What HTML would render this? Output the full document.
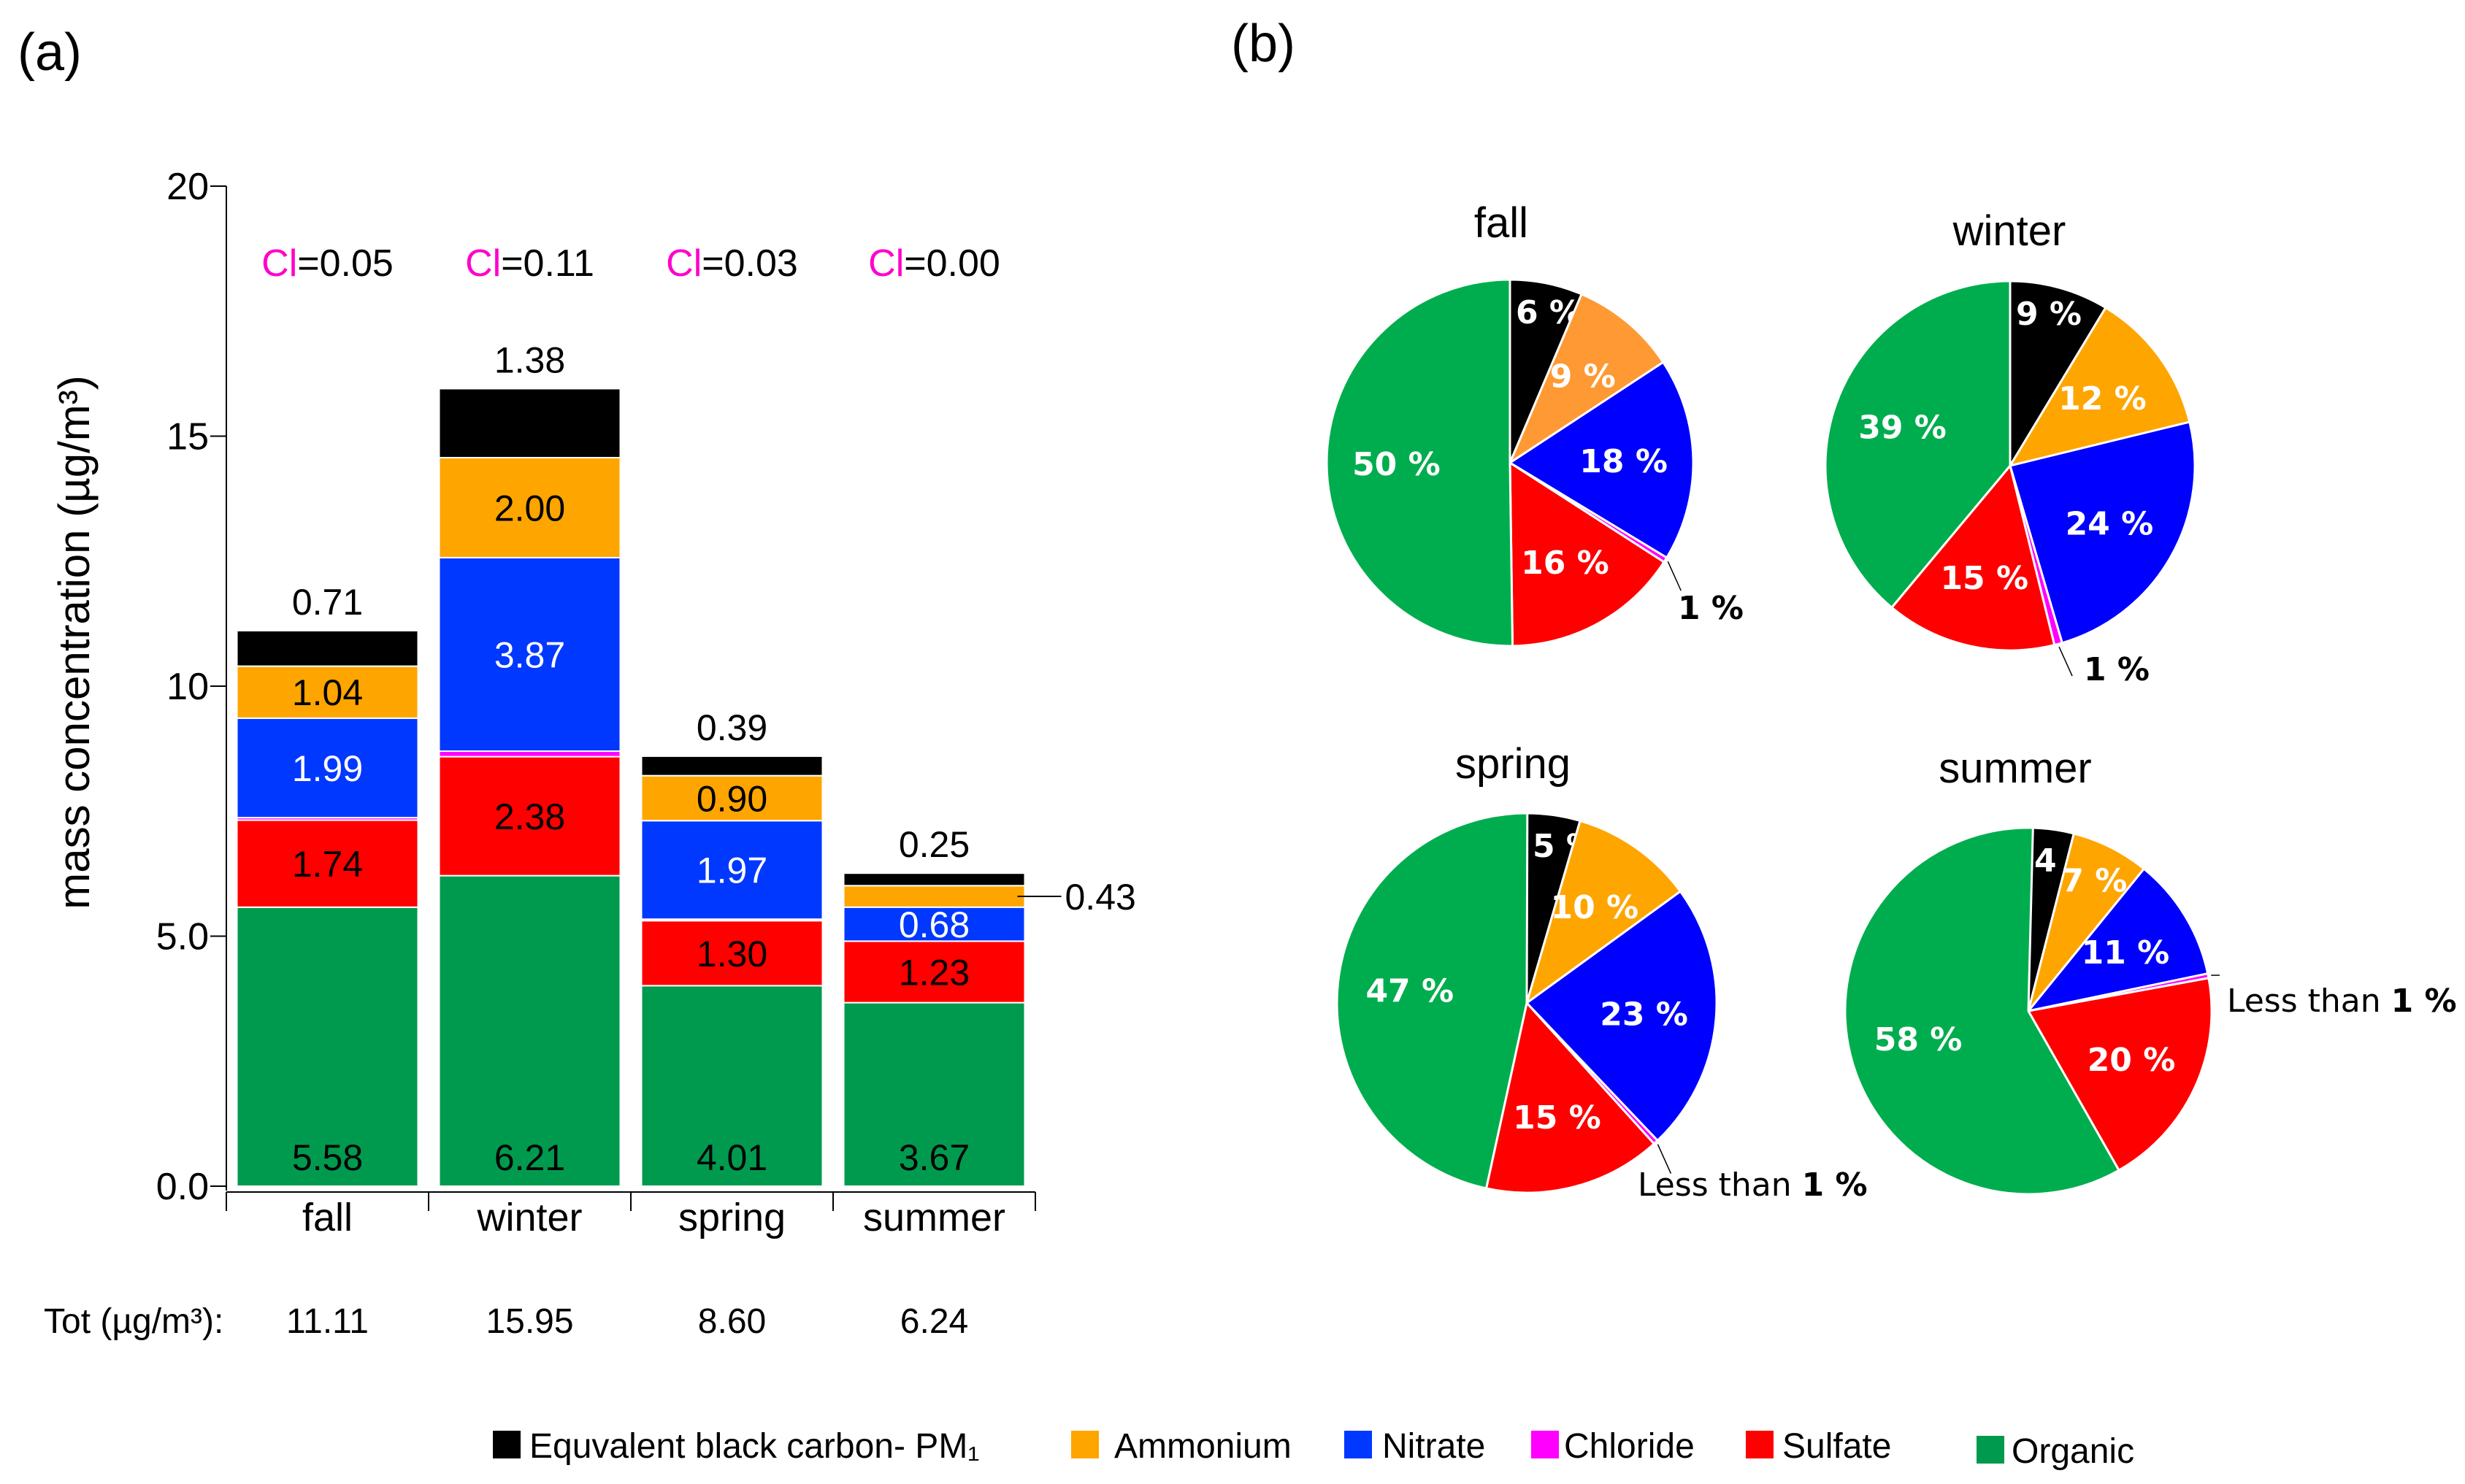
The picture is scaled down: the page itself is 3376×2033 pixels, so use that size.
<!DOCTYPE html>
<html><head><meta charset="utf-8"><style>
html,body{margin:0;padding:0;background:#fff}
svg{display:block;font-family:"Liberation Sans",sans-serif}
</style></head><body>
<svg id="chart" width="3376" height="2033" viewBox="0 0 3376 2033" xmlns="http://www.w3.org/2000/svg">
<text x="24" y="96" font-size="72">(a)</text>
<text x="1686" y="84" font-size="72">(b)</text>
<g id="bars"></g>
<g id="pies"></g>
<g id="legend"></g>
</svg>
<script>
const seasons = ["fall","winter","spring","summer"];
const species = ["Organic","Sulfate","Chloride","Nitrate","Ammonium","BC"];
const organic  = [5.58, 6.21, 4.01, 3.67];
const sulfate  = [1.74, 2.38, 1.30, 1.23];
const chloride = [0.05, 0.11, 0.03, 0.00];
const nitrate  = [1.99, 3.87, 1.97, 0.68];
const ammonium = [1.04, 2.00, 0.90, 0.43];
const bcarbon  = [0.71, 1.38, 0.39, 0.25];
const totals   = ["11.11","15.95","8.60","6.24"];
const yTicks   = [0, 5, 10, 15, 20];
const yTickLabels = ["0.0","5.0","10","15","20"];
const pieLabels = [["6 %","9 %","18 %","1 %","16 %","50 %"],
                   ["9 %","12 %","24 %","1 %","15 %","39 %"],
                   ["5 %","10 %","23 %","Less than 1 %","15 %","47 %"],
                   ["4 %","7 %","11 %","Less than 1 %","20 %","58 %"]];
const legendNames = ["Equvalent black carbon- PM\u2081","Ammonium","Nitrate","Chloride","Sulfate","Organic"];

const NS="http://www.w3.org/2000/svg";
function mk(tag,attrs,parent,text){const e=document.createElementNS(NS,tag);for(const k in attrs)e.setAttribute(k,attrs[k]);if(text!==undefined)e.textContent=text;parent.appendChild(e);return e;}
const colors={Organic:"#009a4e",Sulfate:"#ff0000",Chloride:"#ff00ff",Nitrate:"#0038ff",Ammonium:"#ffa500",BC:"#000000"};
const series=[organic,sulfate,chloride,nitrate,ammonium,bcarbon];

// ---- bar chart ----
const bars=document.getElementById('bars');
const y0=1625, ppu=68.5, axX=310, catW=277, catX0=310, bw=248;
const Y=v=>y0-v*ppu;
const XC=i=>catX0+(i+0.5)*catW;
let ax=mk('line',{x1:axX,y1:Y(20),x2:axX,y2:y0+6,stroke:'#000','stroke-width':2},bars);


yTicks.forEach((t,k)=>{
  let l=mk('line',{x1:axX-22,y1:Y(t),x2:axX,y2:Y(t),stroke:'#000','stroke-width':2},bars);
  
  
  let tx=mk('text',{x:axX-24,y:Y(t)+18,'font-size':52,'text-anchor':'end'},bars,yTickLabels[k]);
  
  
});
let yt=mk('text',{x:0,y:0,'font-size':60,'text-anchor':'middle',transform:'translate(122,880) rotate(-90)'},bars,'mass concentration (µg/m³)');


let xa=mk('line',{x1:catX0,y1:y0+8,x2:catX0+4*catW,y2:y0+8,stroke:'#000','stroke-width':2},bars);


for(let i=0;i<=4;i++){
  let l=mk('line',{x1:catX0+i*catW,y1:y0+8,x2:catX0+i*catW,y2:y0+34,stroke:'#000','stroke-width':2},bars);
  
  
}
seasons.forEach((s,i)=>{
  const xc=XC(i);
  let cat=mk('text',{x:xc,y:1686,'font-size':54,'text-anchor':'middle'},bars,s);
  
  
  let cl=mk('text',{x:xc,y:378,'font-size':52,'text-anchor':'middle'},bars);
  
  
  mk('tspan',{fill:'#ff00cc'},cl,'Cl');
  mk('tspan',{},cl,'='+chloride[i].toFixed(2));
  let tv=mk('text',{x:xc,y:1826,'font-size':48,'text-anchor':'middle'},bars,totals[i]);
  
  
  let cum=0;
  series.forEach((arr,k)=>{
    const v=arr[i]; if(v<=0) return;
    const top=Y(cum+v), h=v*ppu;
    let r=mk('rect',{x:xc-bw/2,y:top,width:bw,height:h,fill:colors[species[k]],stroke:'#fff','stroke-width':2},bars);
    
    
    let lbl=null;
    if(k===0) lbl=mk('text',{x:xc,y:y0-22,'font-size':50,'text-anchor':'middle'},bars,v.toFixed(2));
    else if(k===5) lbl=mk('text',{x:xc,y:top-22,'font-size':50,'text-anchor':'middle'},bars,v.toFixed(2));
    else if(k===4 && i===3){
      mk('line',{x1:xc+bw/2-10,y1:top+h/2,x2:xc+bw/2+50,y2:top+h/2,stroke:'#000','stroke-width':2},bars);
      lbl=mk('text',{x:xc+bw/2+55,y:top+h/2+18,'font-size':50},bars,v.toFixed(2));
    }
    else if(k!==2) lbl=mk('text',{x:xc,y:top+h/2+18,'font-size':50,'text-anchor':'middle',fill:k===3?'#fff':'#000'},bars,v.toFixed(2));
    if(lbl){}
    cum+=v;
  });
});
let tl=mk('text',{x:60,y:1826,'font-size':48},bars,'Tot (µg/m³):');



// ---- pies ----
const pies=document.getElementById('pies');
const pieCX=[2068,2753,2091,2778], pieCY=[634,638,1374,1385], pieR=[251,253,260,251];
const titleXY=[[2056,325],[2752,336],[2072,1066],[2760,1072]];
const pieOrder=[5,4,3,2,1,0]; // BC, Amm, Nit, Chl, Sulf, Org
const outsideXY=[[2298,848],[2854,932],[2243,1638],[3050,1386]];
seasons.forEach((s,i)=>{
  const cx=pieCX[i],cy=pieCY[i],r=pieR[i];
  let t=mk('text',{x:titleXY[i][0],y:titleXY[i][1],'font-size':58,'text-anchor':'middle'},pies,s);
  
  
  const vals=pieOrder.map(k=>series[k][i]);
  const tot=vals.reduce((a,b)=>a+b,0);
  let a=0;
  vals.forEach((v,j)=>{
    const k=pieOrder[j];
    let frac=v/tot; if(k===2 && frac<0.004) frac=0.004;
    const a0=a, a1=a+frac*2*Math.PI; a=a1;
    const p=(ang,rr)=>[cx+rr*Math.sin(ang),cy-rr*Math.cos(ang)];
    const [x0,y0p]=p(a0,r),[x1,y1]=p(a1,r);
    const large=(a1-a0)>Math.PI?1:0;
    let col=colors[species[k]];
    if(k===4 && i===0) col="#ff9933";
    if(k===0) col="#00ad4e";
    if(k===3) col="#0000ff";
    let path=mk('path',{d:`M${cx},${cy} L${x0},${y0p} A${r},${r} 0 ${large} 1 ${x1},${y1} Z`,fill:col,stroke:'#fff','stroke-width':3},pies);
    
    
    const mid=(a0+a1)/2;
    const lab=pieLabels[i][j];
    if(k===2){
      const [lx,ly]=p(mid,r+4);
      const ox=outsideXY[i][0], oy=outsideXY[i][1];
      mk('line',{x1:lx,y1:ly,x2:i===3?ox-10:lx+18,y2:i===3?ly:ly+40,stroke:'#000','stroke-width':1.5},pies);
      let tx=mk('text',{x:ox,y:oy,'font-size':44,'font-family':'DejaVu Sans, sans-serif'},pies);
      
      
      if(lab.startsWith('Less')){mk('tspan',{},tx,'Less than ');mk('tspan',{'font-weight':'bold'},tx,'1 %');}
      else {mk('tspan',{'font-weight':'bold'},tx,lab);}
    } else {
      let tx;
      if(j===0){
        // small black slice label: start just right of the top
        tx=mk('text',{x:cx+8,y:cy-r+60,'font-size':44,'font-weight':'bold',fill:'#fff','font-family':'DejaVu Sans, sans-serif'},pies,lab);
      } else {
        const rr=frac<0.08?0.8*r:0.62*r;
        const [lx,ly]=p(mid,rr);
        tx=mk('text',{x:lx,y:ly+16,'font-size':44,'font-weight':'bold','text-anchor':'middle',fill:'#fff','font-family':'DejaVu Sans, sans-serif'},pies,lab);
      }
      
      
    }
  });
});

// ---- legend ----
const leg=document.getElementById('legend');
const legCols=["#000000","#ffa500","#0038ff","#ff00ff","#ff0000","#009a4e"];
const legSX=[675,1467,1841,2097,2391,2707], legTX=[725,1526,1893,2142,2441,2755];
legendNames.forEach((n,j)=>{
  const yy=j===5?1987:1980;
  let sq=mk('rect',{x:legSX[j],y:yy-20,width:38,height:38,fill:legCols[j]},leg);
  
  
  let tx=mk('text',{x:legTX[j],y:yy+17,'font-size':48},leg,n);
  
  
});
</script>
</body></html>
